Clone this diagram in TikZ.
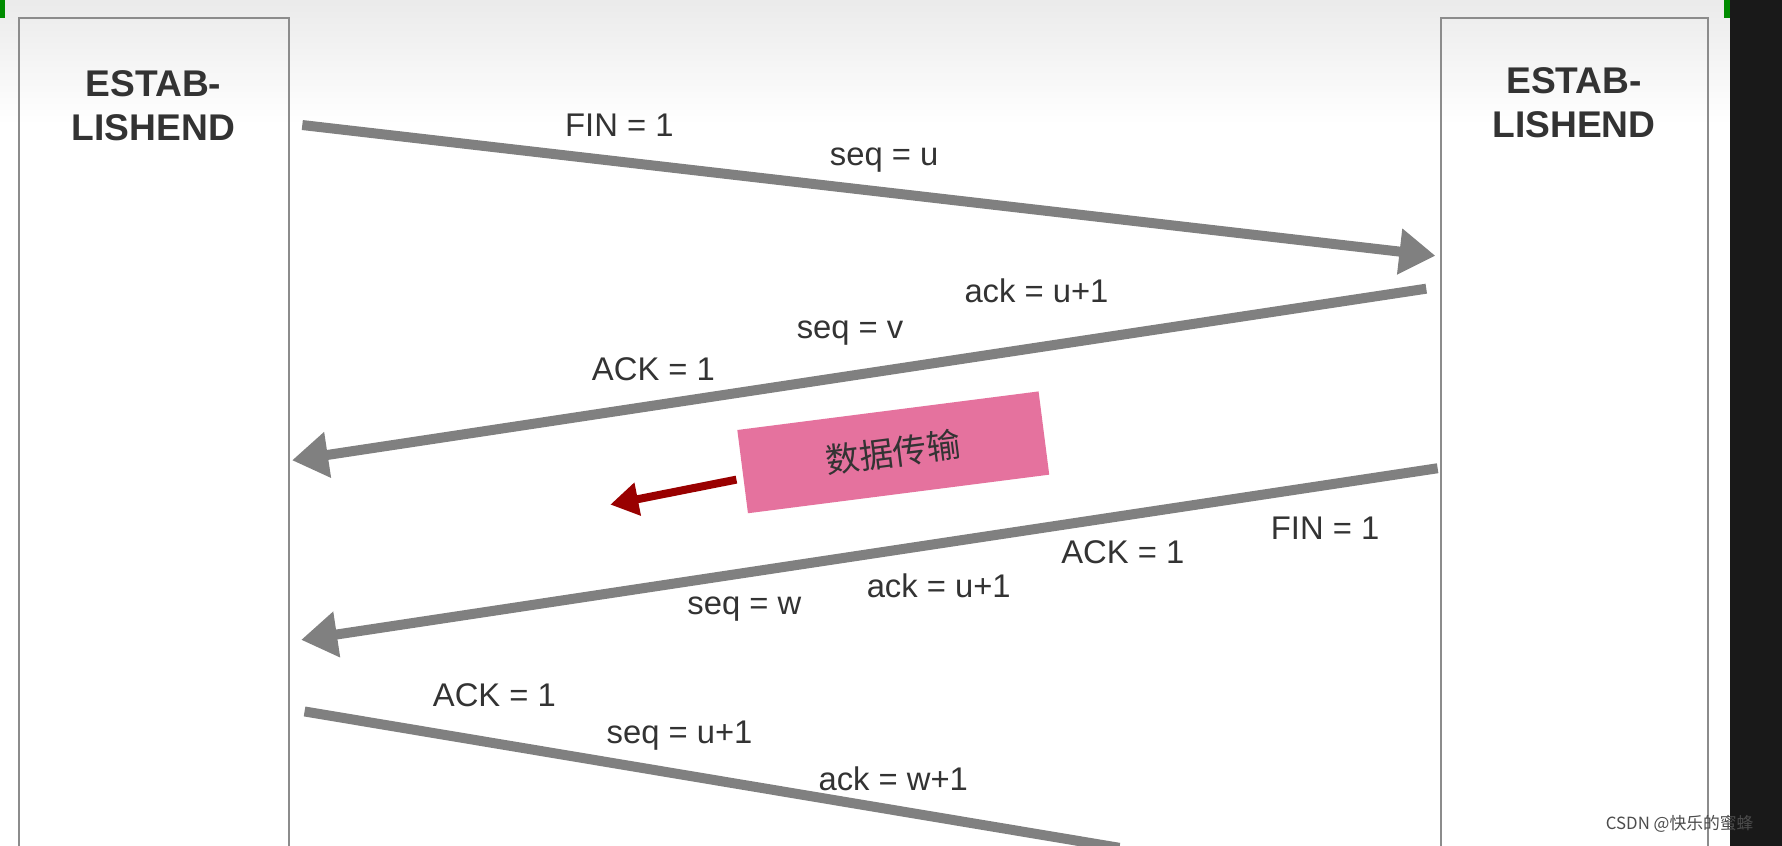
\documentclass[tikz,border=0pt]{standalone}
\usepackage{fontspec}
\setmainfont{Liberation Sans}
\newfontfamily\cjk{Noto Sans CJK SC}
\usetikzlibrary{arrows.meta}
\definecolor{pinkbox}{HTML}{E5729E}
\begin{document}
\begin{tikzpicture}[x=0.01cm,y=-0.01cm,
  lbl/.style={font=\fontsize{8.2}{10}\selectfont,text=black!80},
  head/.style={font=\fontsize{9.3}{11}\selectfont\bfseries,text=black!80,align=center},
  msg/.style={draw=black!50,line width=2.5pt,-{Triangle[length=9pt,width=11pt]}},
  lane/.style={draw=black!45,line width=0.5pt}]
\useasboundingbox (0,0) rectangle (1568,744);
\shade[top color=black!8,bottom color=white] (0,0) rectangle (1522,110);
\fill[white] (0,110) rectangle (1522,744);
\fill[black!90] (1522,0) rectangle (1568,744);
\fill[green!55!black] (0,0) rectangle (4,16);
\fill[green!55!black] (1517,0) rectangle (1522,16);
\draw[lane] (17,744) -- (17,16) -- (254,16) -- (254,744);
\draw[lane] (1268,744) -- (1268,16) -- (1503,16) -- (1503,744);
\node[head] (l) at (135,93) {ESTAB-\\LISHEND};
\node[head] (r) at (1385,90) {ESTAB-\\LISHEND};
\coordinate (a1) at (266,110); \coordinate (b1) at (1263,225);
\coordinate (a2) at (1255,254); \coordinate (b2) at (257,405);
\coordinate (a3) at (1265,412); \coordinate (b3) at (265,563);
\coordinate (a4) at (268,626); \coordinate (b4) at (985,746);
\draw[msg] (a1) -- (b1);
\draw[msg] (a2) -- (b2);
\draw[msg] (a3) -- (b3);
\draw[draw=black!50,line width=2.5pt] (a4) -- (b4);
\node[rotate=7.3,fill=pinkbox,minimum width=76pt,minimum height=21pt,inner sep=0pt,
  font=\cjk\fontsize{8.5}{10}\selectfont,text=black!80] (p) at (786,398) {数据传输};
\coordinate (rs) at (648,422); \coordinate (re) at (537,444);
\draw[draw=red!60!black,line width=2pt,-{Triangle[length=7pt,width=8pt]}] (rs) -- (re);
\node[lbl] (t1) at (545,110) {FIN = 1};
\node[lbl] (t2) at (778,141) {seq = u};
\node[lbl] (t3) at (912,256) {ack = u+1};
\node[lbl] (t4) at (748,293) {seq = v};
\node[lbl] (t5) at (575,325) {ACK = 1};
\node[lbl] (t6) at (1166,465) {FIN = 1};
\node[lbl] (t7) at (988,486) {ACK = 1};
\node[lbl] (t8) at (826,515) {ack = u+1};
\node[lbl] (t9) at (655,536) {seq = w};
\node[lbl] (t10) at (435,612) {ACK = 1};
\node[lbl] (t11) at (598,647) {seq = u+1};
\node[lbl] (t12) at (786,685) {ack = w+1};
\node[font=\cjk\fontsize{4.2}{5}\selectfont,text=black!70] (w) at (1478,725) {CSDN @快乐的蜜蜂};
\end{tikzpicture}
\end{document}
